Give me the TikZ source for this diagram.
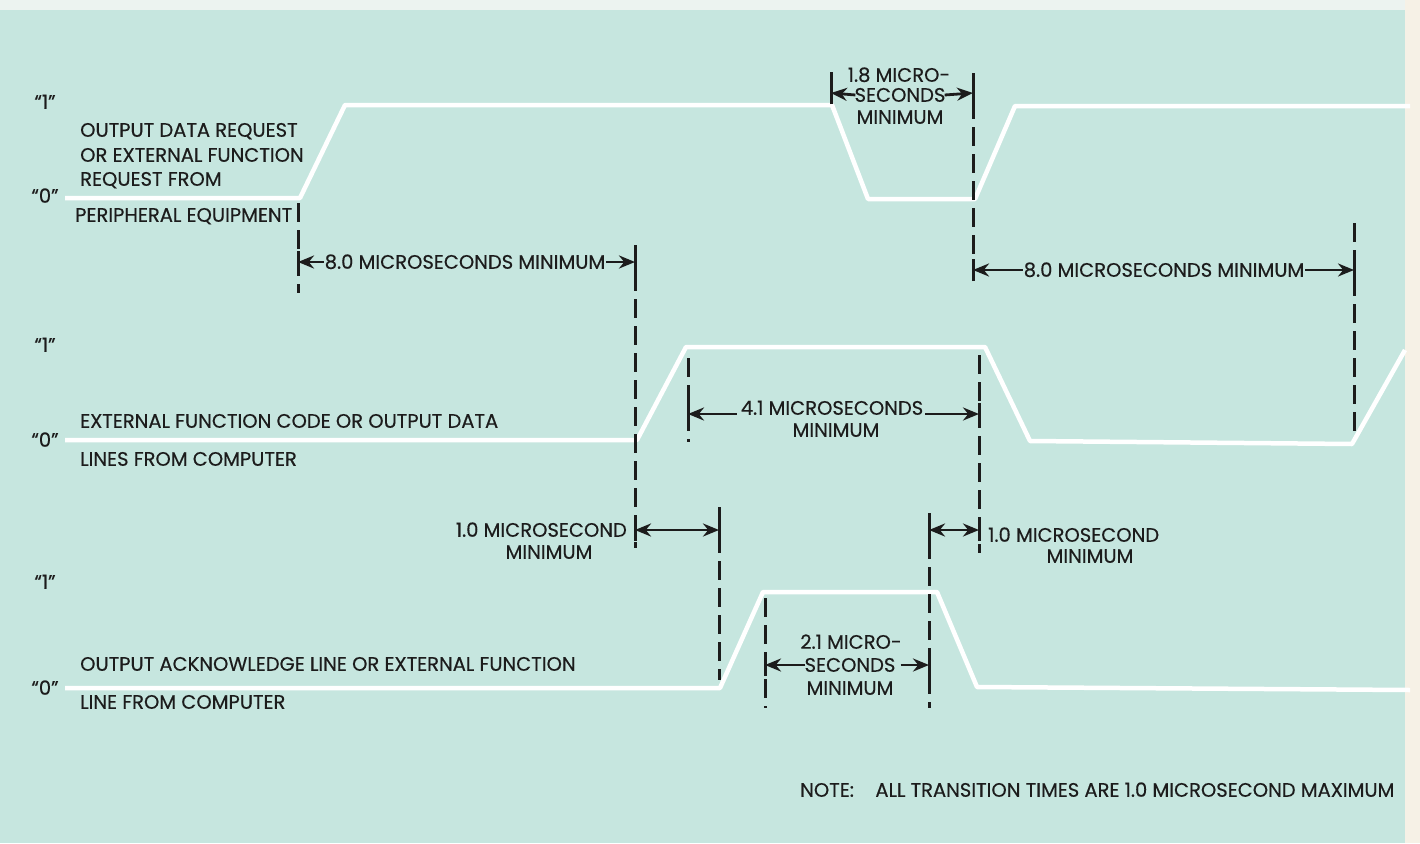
\documentclass[tikz,border=0pt]{standalone}
\usepackage{fontspec}
\setmainfont{Poppins}[FakeBold=0.4]
\usetikzlibrary{arrows.meta}
\definecolor{bg}{RGB}{198,230,223}
\definecolor{bgtop}{RGB}{236,243,240}
\definecolor{bgright}{RGB}{246,241,230}
\definecolor{ink}{RGB}{28,28,28}
\tikzset{
  wave/.style={draw=white, line width=4.5pt, line join=round},
  guide/.style={draw=ink, line width=3pt, dash pattern=on 19pt off 8pt},
  tick/.style={draw=ink, line width=3pt},
  dimarrow/.style={draw=ink, line width=2.8pt, -{Stealth[length=16pt,width=13pt]}},
  dimboth/.style={draw=ink, line width=2.8pt, {Stealth[length=16pt,width=13pt]}-{Stealth[length=16pt,width=13pt]}},
  lbl/.style={inner sep=0pt, text=ink, font=\fontsize{19.5}{19.5}\selectfont, text height=13.5pt, text depth=0pt},
}
\begin{document}
\begin{tikzpicture}[x=1pt,y=-1pt]
\useasboundingbox (0,0) rectangle (1420,843);
\fill[bgright] (0,0) rectangle (1420,843);
\fill[bgtop] (0,0) rectangle (1405,10);
\fill[bg] (0,10) rectangle (1405,843);

% waveforms
\draw[wave] (65,198) -- (300,198) -- (345,105) -- (832,105) -- (868,199) -- (975,199) -- (1015,106) -- (1410,106);
\draw[wave] (65,440) -- (637,440) -- (686,347) -- (985,347) -- (1030,441) -- (1352,444) -- (1405,350);
\draw[wave] (65,688) -- (720,688) -- (763,592) -- (937,592) -- (977,687) -- (1410,690);

% level labels
\node[lbl] (a1) at (45,102) {“1”};
\node[lbl] (a0) at (45,196) {“0”};
\node[lbl] (b1) at (45,345) {“1”};
\node[lbl] (b0) at (45,440) {“0”};
\node[lbl] (c1) at (45,582) {“1”};
\node[lbl] (c0) at (45,688) {“0”};

% signal names
\node[lbl, anchor=west] (t1) at (80,130) {OUTPUT DATA REQUEST};
\node[lbl, anchor=west] (t2) at (80,155) {OR EXTERNAL FUNCTION};
\node[lbl, anchor=west] (t3) at (80,179) {REQUEST FROM};
\node[lbl, anchor=west] (t4) at (75,215) {PERIPHERAL EQUIPMENT};
\node[lbl, anchor=west] (t5) at (80,421) {EXTERNAL FUNCTION CODE OR OUTPUT DATA};
\node[lbl, anchor=west] (t6) at (80,459) {LINES FROM COMPUTER};
\node[lbl, anchor=west] (t7) at (80,664) {OUTPUT ACKNOWLEDGE LINE OR EXTERNAL FUNCTION};
\node[lbl, anchor=west] (t8) at (80,702) {LINE FROM COMPUTER};

% guide coordinates
\coordinate (d1a) at (298,203); \coordinate (d1b) at (298,293);
\coordinate (d2a) at (635,245); \coordinate (d2b) at (635,548);
\coordinate (d3a) at (831,72);  \coordinate (d3b) at (831,100);
\coordinate (d4a) at (973,73);  \coordinate (d4b) at (973,283);
\coordinate (d5a) at (1354,223); \coordinate (d5b) at (1354,435);
\coordinate (d6a) at (688,358); \coordinate (d6b) at (688,442);
\coordinate (d7a) at (979,355); \coordinate (d7b) at (979,553);
\coordinate (d8a) at (719,507); \coordinate (d8b) at (719,680);
\coordinate (d9a) at (929,513); \coordinate (d9b) at (929,708);
\coordinate (d10a) at (765,598); \coordinate (d10b) at (765,708);
\foreach \d in {d1,d2,d3,d4,d5,d6,d7,d8,d9,d10} \draw[guide] (\d a) -- (\d b);

% arrow end points
\coordinate (e1l) at (298,262); \coordinate (e1r) at (635,262);
\coordinate (e2l) at (831,93);  \coordinate (e2r) at (973,93);
\coordinate (e3l) at (973,270); \coordinate (e3r) at (1354,270);
\coordinate (e4l) at (688,414); \coordinate (e4r) at (979,414);
\coordinate (e5l) at (635,530); \coordinate (e5r) at (719,530);
\coordinate (e6l) at (929,530); \coordinate (e6r) at (979,530);
\coordinate (e7l) at (765,665); \coordinate (e7r) at (929,665);
\foreach \e in {e1l,e1r,e2l,e2r,e3l,e3r,e4l,e4r,e5l,e5r,e6l,e6r,e7l,e7r}
  \draw[tick] ([yshift=-11pt]\e) -- ([yshift=11pt]\e);

% dimension labels
\node[lbl] (m1) at (465,262) {8.0 MICROSECONDS MINIMUM};
\draw[dimarrow] ([xshift=-1pt]m1.west) -- (e1l);
\draw[dimarrow] ([xshift=1pt]m1.east) -- (e1r);

\node[lbl] (m2a) at (899,75) {1.8 MICRO-};
\node[lbl] (m2) at (900,95) {SECONDS};
\node[lbl] (m2c) at (900,117) {MINIMUM};
\draw[dimarrow] ([xshift=1pt]m2.west) -- (e2l);
\draw[dimarrow] ([xshift=-1pt]m2.east) -- (e2r);

\node[lbl] (m3) at (1164,270) {8.0 MICROSECONDS MINIMUM};
\draw[dimarrow] ([xshift=-1pt]m3.west) -- (e3l);
\draw[dimarrow] ([xshift=1pt]m3.east) -- (e3r);

\node[lbl] (m4) at (832,408) {4.1 MICROSECONDS};
\node[lbl] (m4b) at (836,430) {MINIMUM};
\draw[dimarrow] (m4.west |- e4l) ++(-4pt,0) -- (e4l);
\draw[dimarrow] (m4.east |- e4r) ++(2pt,0) -- (e4r);

\node[lbl, anchor=east] (m5) at (627,530) {1.0 MICROSECOND};
\node[lbl] (m5b) at (549,552) {MINIMUM};
\draw[dimboth] (e5l) -- (e5r);

\node[lbl, anchor=west] (m6) at (988,535) {1.0 MICROSECOND};
\node[lbl] (m6b) at (1090,556) {MINIMUM};
\draw[dimboth] (e6l) -- (e6r);

\node[lbl] (m7a) at (851,642) {2.1 MICRO-};
\node[lbl] (m7) at (850,665) {SECONDS};
\node[lbl] (m7c) at (850,688) {MINIMUM};
\draw[dimarrow] ([xshift=1pt]m7.west) -- (e7l);
\draw[dimarrow] ([xshift=5pt]m7.east) -- (e7r);

\node[lbl, anchor=west] (note) at (800,790) {NOTE:\hspace{1.1em}ALL TRANSITION TIMES ARE 1.0 MICROSECOND MAXIMUM};
\end{tikzpicture}
\end{document}
